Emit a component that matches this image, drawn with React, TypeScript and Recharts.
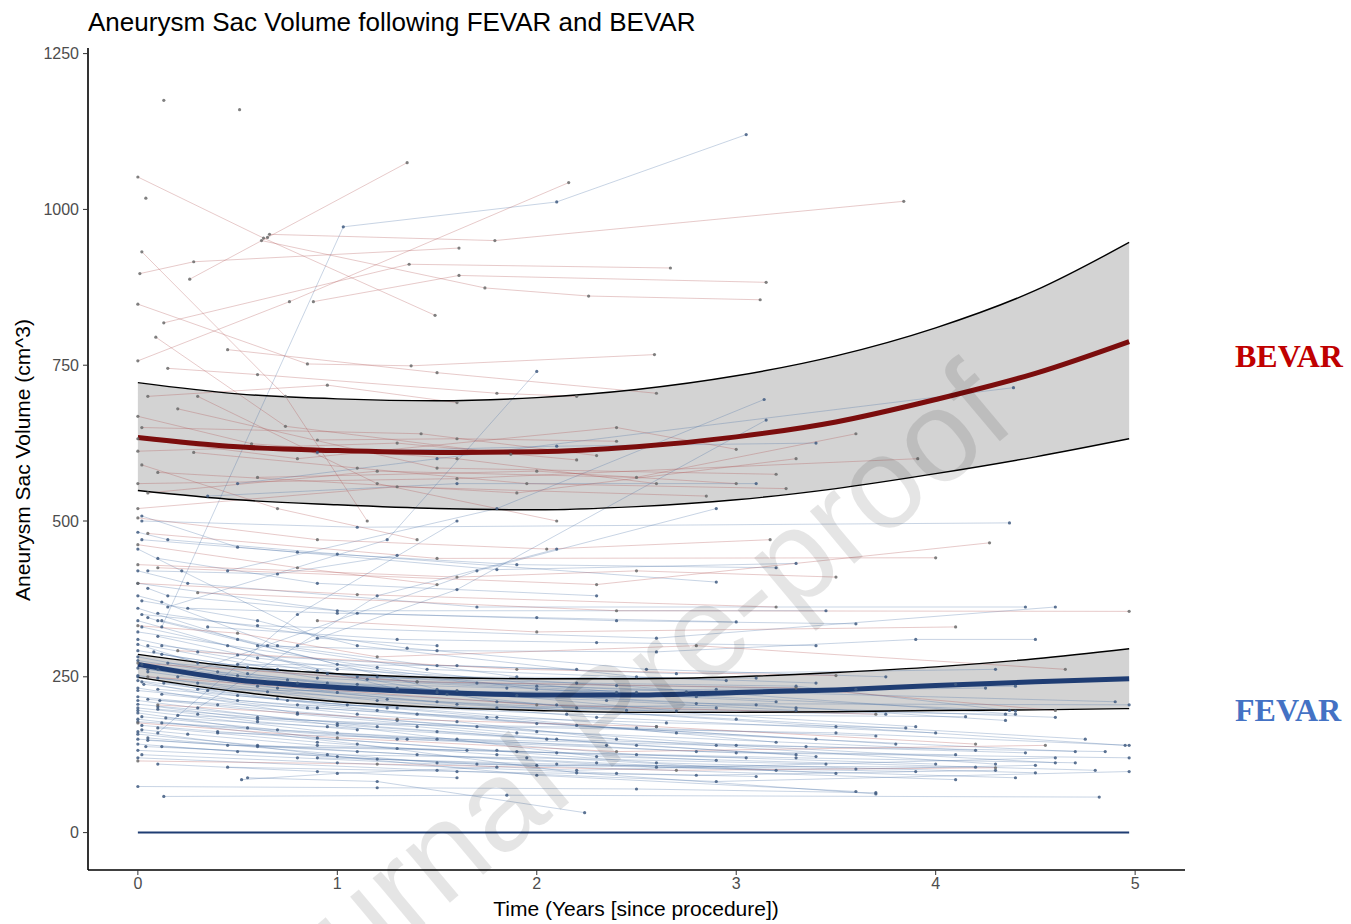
import React from 'react';
import { ComposedChart, Line, Area, XAxis, YAxis } from 'recharts';

const xTicks = [0, 1, 2, 3, 4, 5];
const yTicks = [0, 250, 500, 750, 1000, 1250];

const curveT = [0, 0.5, 1, 1.5, 2, 2.5, 3, 3.5, 4, 4.5, 4.97];
const bevarMean = [634, 619, 613, 610, 611, 619, 635, 659, 695, 737, 788];
const bevarLower = [549, 534, 526, 520, 518, 523, 534, 552, 576, 603, 632];
const bevarUpper = [722, 704, 696, 693, 698, 711, 733, 765, 810, 870, 947];
const fevarMean = [270, 245, 233, 225, 221, 221, 225, 229, 236, 242, 247];
const fevarLower = [249, 226, 210, 201, 196, 193, 193, 194, 196, 197, 199];
const fevarUpper = [286, 266, 255, 249, 247, 247, 250, 257, 266, 279, 295];

const zeroT = [0, 4.97];
const zeroV = [0, 0];

const bevarPatients: number[][][] = [
  [[0, 1052], [0.63, 954], [1.49, 830]],
  [[0.26, 888], [0.65, 955], [1.35, 1075]],
  [[0.01, 897], [0.28, 916], [1.61, 938]],
  [[0.66, 960], [1.79, 950], [3.84, 1013]],
  [[0.62, 950], [1.74, 874], [2.26, 861], [3.12, 855]],
  [[0.02, 932], [0.74, 700], [1.15, 500]],
  [[0.13, 818], [1.36, 912], [2.67, 906]],
  [[0, 757], [0.76, 852], [2.16, 1043]],
  [[0.88, 852], [1.61, 894], [3.15, 883]],
  [[0.09, 795], [0.74, 652], [1.87, 607]],
  [[0.04, 1018]],
  [[0.13, 1175]],
  [[0.51, 1160]],
  [[0, 848], [0.85, 752], [1.37, 749], [2.59, 767]],
  [[0.05, 700], [0.95, 718], [1.6, 690]],
  [[0, 668], [0.57, 624], [1.6, 600], [2.6, 560]],
  [[0.02, 650], [1.42, 640], [2.3, 605]],
  [[0.2, 680], [1.5, 585], [3.2, 575]],
  [[0, 612], [1.3, 625], [2.2, 598]],
  [[0.1, 578], [1.9, 545], [3.3, 600]],
  [[0, 560], [1.6, 568], [3.91, 600]],
  [[0.05, 545], [1.2, 580], [2.5, 570], [3.6, 640]],
  [[0, 632], [0.8, 600], [2.4, 650], [3.0, 615]],
  [[0, 520], [1.3, 555], [2.85, 540]],
  [[0.15, 745], [0.6, 735], [1.8, 705], [2.2, 700]],
  [[0.28, 610], [1.1, 585], [1.95, 560], [3.25, 552]],
  [[0.6, 570], [2.0, 580], [3.0, 560]],
  [[0.45, 775], [1.5, 738], [2.6, 705]],
  [[0.9, 630], [1.6, 632], [2.4, 628]],
  [[0, 505], [0.9, 470], [2.05, 455], [3.17, 470]],
  [[0.05, 480], [1.5, 440], [4.0, 441]],
  [[0.1, 425], [2.3, 398], [4.27, 465]],
  [[0, 430], [1.6, 410], [2.5, 420], [3.5, 410]],
  [[0.3, 385], [2.4, 356], [4.97, 355]],
  [[0, 400], [1.1, 382], [3.2, 362]],
  [[0.9, 340], [2.0, 322], [4.1, 330]],
  [[0, 332], [0.5, 320], [1.2, 282], [2.8, 300], [4.65, 262]],
  [[0.2, 292], [1.9, 262], [3.5, 252]],
  [[0, 272], [1.4, 242], [3.3, 232], [4.6, 196]],
  [[0.1, 205], [1.3, 182], [2.6, 170], [4.2, 142]],
  [[0, 176], [1.0, 152], [2.4, 130], [4.55, 140]],
  [[0, 115], [1.2, 110], [2.7, 100], [4.3, 104]],
  [[0.05, 250], [2.0, 205], [3.7, 190]],
  [[0, 462], [0.8, 425], [1.5, 398]],
  [[0.02, 590], [0.7, 520], [1.4, 470]],
  [[0.3, 700], [1.2, 560], [2.1, 500]],
];

const fevarPatients: number[][][] = [
  [[0.02, 500], [1.1, 490], [4.37, 497]],
  [[0, 482], [0.15, 470], [1.0, 447], [2.9, 402]],
  [[0.02, 508], [0.5, 458], [1.8, 422], [3.3, 432]],
  [[0, 455], [0.22, 420], [0.9, 312], [1.5, 300]],
  [[0.05, 392], [0.15, 380], [1.0, 356], [3.45, 356]],
  [[0, 420], [0.25, 400], [1.7, 362], [4.45, 362]],
  [[0.12, 330], [1.03, 972], [2.1, 1012], [3.05, 1120]],
  [[0.45, 420], [1.8, 520], [3.14, 695]],
  [[0.8, 300], [1.6, 390], [3.15, 662]],
  [[0.15, 362], [1.25, 470], [2.0, 740]],
  [[0.5, 560], [1.5, 600], [4.39, 714]],
  [[0.02, 350], [0.6, 332], [2.6, 312], [4.6, 362]],
  [[0, 282], [0.5, 252], [1.3, 232], [2.8, 207], [4.97, 205]],
  [[0, 302], [0.3, 272], [1.0, 262], [2.4, 236], [4.4, 190]],
  [[0.02, 242], [0.5, 212], [1.2, 196], [2.2, 172], [3.8, 142]],
  [[0, 232], [0.8, 192], [2.0, 162], [4.2, 132]],
  [[0.05, 262], [0.7, 232], [1.6, 206], [3.0, 182], [4.75, 150]],
  [[0, 212], [1.0, 172], [2.3, 122], [4.8, 100]],
  [[0.1, 202], [0.6, 182], [1.5, 162], [3.4, 122]],
  [[0, 192], [0.9, 152], [2.6, 112], [4.5, 96]],
  [[0, 182], [1.1, 142], [2.2, 96], [3.7, 62]],
  [[0.02, 172], [0.4, 162], [1.8, 132], [2.9, 116]],
  [[0, 162], [1.0, 122], [2.0, 92], [3.6, 66]],
  [[0.05, 152], [1.5, 112], [4.1, 85]],
  [[0.13, 58], [1.85, 60], [4.82, 57]],
  [[0, 74], [1.2, 72], [2.5, 70], [3.7, 64]],
  [[0.55, 88], [1.2, 82], [2.24, 32]],
  [[0.52, 85], [1.0, 95], [1.8, 105]],
  [[0, 380], [0.12, 370], [0.7, 300], [1.9, 250]],
  [[0.02, 372], [0.6, 340], [1.1, 300], [2.5, 250], [3.4, 240]],
  [[0, 360], [0.5, 310], [1.5, 230], [2.7, 195]],
  [[0.05, 345], [0.1, 340], [1.0, 270], [2.0, 230], [3.2, 210]],
  [[0, 340], [0.9, 260], [1.8, 210], [3.9, 170]],
  [[0.02, 330], [0.45, 300], [1.3, 230], [2.2, 200], [4.35, 190]],
  [[0, 322], [1.2, 265], [2.4, 225], [4.4, 195]],
  [[0.1, 315], [0.6, 280], [1.7, 240], [3.6, 230]],
  [[0, 310], [0.3, 290], [0.95, 255], [2.0, 235], [4.9, 210]],
  [[0.05, 300], [0.7, 262], [1.4, 242], [2.5, 225]],
  [[0, 292], [0.55, 265], [1.2, 250], [3.1, 248]],
  [[0.12, 286], [0.9, 248], [2.8, 218], [4.1, 238]],
  [[0, 276], [0.4, 258], [1.1, 238], [1.9, 220]],
  [[0.02, 270], [0.8, 240], [1.6, 228], [3.3, 200], [4.6, 185]],
  [[0, 264], [1.0, 225], [2.1, 205], [2.9, 200]],
  [[0.05, 258], [0.6, 235], [1.5, 210], [3.5, 170], [4.95, 140]],
  [[0, 252], [0.3, 240], [1.3, 200], [2.6, 170]],
  [[0.1, 248], [1.2, 212], [2.3, 185], [4.0, 160]],
  [[0, 244], [0.7, 215], [1.8, 185], [3.2, 145]],
  [[0.03, 238], [0.5, 220], [1.4, 190], [2.7, 160], [4.7, 130]],
  [[0, 228], [0.9, 200], [2.0, 175], [3.4, 150]],
  [[0.12, 222], [1.1, 190], [1.6, 178], [2.4, 150]],
  [[0, 218], [0.4, 205], [1.3, 180], [3.0, 140], [4.6, 112]],
  [[0.05, 214], [0.8, 190], [1.9, 160], [4.3, 110]],
  [[0, 206], [1.2, 170], [2.5, 140], [3.3, 125]],
  [[0.1, 198], [0.6, 185], [1.4, 170], [2.1, 150]],
  [[0, 196], [1.0, 160], [2.8, 130], [4.1, 125]],
  [[0.02, 186], [0.7, 165], [1.5, 150], [2.5, 125], [4.0, 110]],
  [[0, 178], [1.3, 150], [3.0, 128], [4.97, 120]],
  [[0.1, 168], [0.9, 145], [1.8, 125], [3.2, 100]],
  [[0, 158], [0.6, 140], [1.4, 125], [2.6, 105], [4.4, 88]],
  [[0.05, 148], [1.1, 130], [2.3, 112], [3.5, 95]],
  [[0, 142], [0.5, 130], [1.7, 110], [3.9, 98]],
  [[0.12, 138], [1.2, 118], [2.0, 108], [4.2, 105]],
  [[0, 132], [0.8, 120], [2.2, 100], [4.6, 120]],
  [[0.02, 125], [1.0, 112], [2.4, 95], [3.1, 90]],
  [[0, 120], [1.5, 100], [2.9, 82], [4.97, 98]],
  [[0.1, 110], [0.9, 98], [1.6, 88]],
  [[0.35, 330], [1.3, 310], [2.3, 305], [3.4, 300]],
  [[0.25, 360], [1.0, 352], [2.0, 345], [3.0, 338]],
  [[0.6, 300], [1.5, 292], [2.6, 290], [3.9, 310], [4.5, 310]],
  [[0.5, 270], [1.6, 268], [2.7, 255], [4.3, 262]],
  [[0.3, 230], [1.5, 225], [2.9, 230], [4.4, 235]],
  [[0.8, 205], [1.8, 200], [3.1, 205], [4.35, 180]],
  [[1.1, 250], [2.2, 240], [3.3, 235], [4.37, 196]],
  [[0.2, 188], [1.7, 170], [3.5, 160], [4.97, 140]],
  [[0.4, 160], [1.6, 150], [2.9, 140], [4.85, 130]],
  [[1.0, 175], [2.5, 168], [3.7, 155]],
  [[0.6, 138], [1.9, 130], [3.3, 120], [4.7, 112]],
  [[0.9, 120], [2.1, 110], [3.6, 102], [4.5, 108]],
  [[0.45, 105], [1.6, 98], [2.8, 92], [4.3, 100]],
  [[0.1, 160], [0.8, 350], [1.6, 500]],
  [[0.3, 200], [1.2, 380], [2.1, 455]],
  [[0.2, 250], [1.7, 420], [2.9, 520]],
  [[0.05, 420], [0.7, 415], [1.3, 445]],
  [[0.02, 470], [0.8, 450], [1.9, 430], [3.2, 425]],
  [[0.1, 440], [0.9, 400], [2.3, 380]],
  [[0, 400], [1.1, 352], [2.4, 340], [3.6, 335]],
  [[0.35, 540], [1.6, 560], [3.1, 560]],
  [[0.9, 610], [2.1, 620], [3.4, 625]],
  [[0.12, 300], [0.5, 285], [1.5, 268], [2.2, 262]],
  [[0.1, 262], [0.75, 245], [1.55, 222], [2.35, 212], [3.3, 196]],
  [[0.13, 240], [0.65, 226], [1.25, 214], [2.45, 196], [3.75, 190]],
  [[0.11, 212], [0.85, 200], [1.75, 185], [2.65, 176], [3.85, 168]],
  [[0.14, 184], [0.95, 170], [2.05, 150], [3.35, 138], [4.45, 128]],
  [[0.12, 176], [0.55, 168], [1.35, 150], [2.35, 140]],
  [[0.1, 230], [1.05, 205], [2.15, 190], [4.15, 186]],
  [[0.15, 272], [1.15, 246], [2.75, 226], [4.25, 232]],
  [[0.12, 340], [0.65, 300], [1.45, 262], [2.95, 244]],
  [[0.1, 352], [1.35, 296], [2.55, 262], [3.75, 250]],
  [[0, 250], [0.35, 228], [0.75, 212], [1.25, 200]],
  [[0, 200], [0.3, 190], [0.6, 178], [1.1, 165]],
  [[0.02, 165], [0.25, 158], [0.9, 140], [1.65, 132]],
  [[0, 150], [0.45, 140], [1.3, 135], [2.1, 128], [3.05, 120]],
  [[0.04, 138], [0.95, 125], [1.95, 120], [3.45, 110]],
  [[0.08, 290], [0.55, 255], [0.95, 240], [1.85, 232]],
];

const curveData = curveT.map((t, i) => ({
  t,
  bm: bevarMean[i],
  bl: bevarLower[i],
  bu: bevarUpper[i],
  bBand: [bevarLower[i], bevarUpper[i]],
  fm: fevarMean[i],
  fl: fevarLower[i],
  fu: fevarUpper[i],
  fBand: [fevarLower[i], fevarUpper[i]],
}));

const zeroData = zeroT.map((t, i) => ({ t, z: zeroV[i] }));

const toPts = (p: number[][]) => p.map(([t, v]) => ({ t, v }));

const sans = '"Liberation Sans", Arial, Helvetica, sans-serif';
const serif = '"Liberation Serif", "Times New Roman", serif';

export default function App() {
  return (
    <div style={{ position: 'absolute', left: 0, top: 0, width: 1351, height: 924, background: '#fff', overflow: 'hidden' }}>
      <ComposedChart
        width={1351}
        height={924}
        data={curveData}
        margin={{ top: 48, right: 166, bottom: 0, left: 0 }}
      >
        <XAxis
          type="number"
          dataKey="t"
          domain={[-0.25, 5.25]}
          ticks={xTicks}
          allowDataOverflow
          height={54}
          tickSize={5}
          tickMargin={3}
          tick={{ fill: '#4d4d4d', fontSize: 16, fontFamily: sans }}
          tickLine={{ stroke: '#333', strokeWidth: 1 }}
          axisLine={{ stroke: '#000', strokeWidth: 1.6 }}
        />
        <YAxis
          type="number"
          domain={[-60, 1259]}
          ticks={yTicks}
          allowDataOverflow
          width={88}
          tickSize={5}
          tickMargin={4}
          tick={{ fill: '#4d4d4d', fontSize: 16, fontFamily: sans }}
          tickLine={{ stroke: '#333', strokeWidth: 1 }}
          axisLine={{ stroke: '#000', strokeWidth: 1.6 }}
        />
        <Area
          dataKey="bBand"
          type="monotone"
          fill="#d3d3d3"
          fillOpacity={1}
          stroke="none"
          isAnimationActive={false}
          activeDot={false}
        />
        <Area
          dataKey="fBand"
          type="monotone"
          fill="#d3d3d3"
          fillOpacity={1}
          stroke="none"
          isAnimationActive={false}
          activeDot={false}
        />
        {fevarPatients.map((p, i) => (
          <Line
            key={'f' + i}
            data={toPts(p)}
            dataKey="v"
            type="linear"
            stroke="#4a6fa5"
            strokeOpacity={0.3}
            strokeWidth={1}
            dot={{ r: 1.6, fill: '#3f5a80', stroke: 'none', fillOpacity: 0.85 }}
            activeDot={false}
            isAnimationActive={false}
            legendType="none"
          />
        ))}
        {bevarPatients.map((p, i) => (
          <Line
            key={'b' + i}
            data={toPts(p)}
            dataKey="v"
            type="linear"
            stroke="#b05050"
            strokeOpacity={0.3}
            strokeWidth={1}
            dot={{ r: 1.6, fill: '#6a6a6a', stroke: 'none', fillOpacity: 0.85 }}
            activeDot={false}
            isAnimationActive={false}
            legendType="none"
          />
        ))}
        <Line dataKey="bu" type="monotone" stroke="#000" strokeWidth={1.4} dot={false} activeDot={false} isAnimationActive={false} />
        <Line dataKey="bl" type="monotone" stroke="#000" strokeWidth={1.4} dot={false} activeDot={false} isAnimationActive={false} />
        <Line dataKey="fu" type="monotone" stroke="#000" strokeWidth={1.4} dot={false} activeDot={false} isAnimationActive={false} />
        <Line dataKey="fl" type="monotone" stroke="#000" strokeWidth={1.4} dot={false} activeDot={false} isAnimationActive={false} />
        <Line dataKey="bm" type="monotone" stroke="#7b0d0d" strokeWidth={5} dot={false} activeDot={false} isAnimationActive={false} />
        <Line dataKey="fm" type="monotone" stroke="#1f3d73" strokeWidth={5} dot={false} activeDot={false} isAnimationActive={false} />
        <Line data={zeroData} dataKey="z" type="linear" stroke="#1f3d73" strokeWidth={2} dot={false} activeDot={false} isAnimationActive={false} />
      </ComposedChart>
      <svg
        width={1351}
        height={924}
        style={{ position: 'absolute', left: 0, top: 0, pointerEvents: 'none' }}
      >
        <text x={88} y={31} fontFamily={sans} fontSize={26} fill="#000">
          Aneurysm Sac Volume following FEVAR and BEVAR
        </text>
        <text
          x={30}
          y={460}
          transform="rotate(-90 30 460)"
          textAnchor="middle"
          fontFamily={sans}
          fontSize={21}
          fill="#000"
        >
          Aneurysm Sac Volume (cm^3)
        </text>
        <text x={636} y={916} textAnchor="middle" fontFamily={sans} fontSize={21} fill="#000">
          Time (Years [since procedure])
        </text>
        <text x={1235} y={367} fontFamily={serif} fontWeight="bold" fontSize={32} fill="#c00000">
          BEVAR
        </text>
        <text x={1235} y={721} fontFamily={serif} fontWeight="bold" fontSize={32} fill="#4472c4">
          FEVAR
        </text>
        <text
          x={612}
          y={722}
          transform="rotate(-40 612 722)"
          textAnchor="middle"
          dominantBaseline="middle"
          fontFamily={sans}
          fontSize={130}
          fill="#000"
          fillOpacity={0.1}
        >
          Journal Pre-proof
        </text>
      </svg>
    </div>
  );
}
